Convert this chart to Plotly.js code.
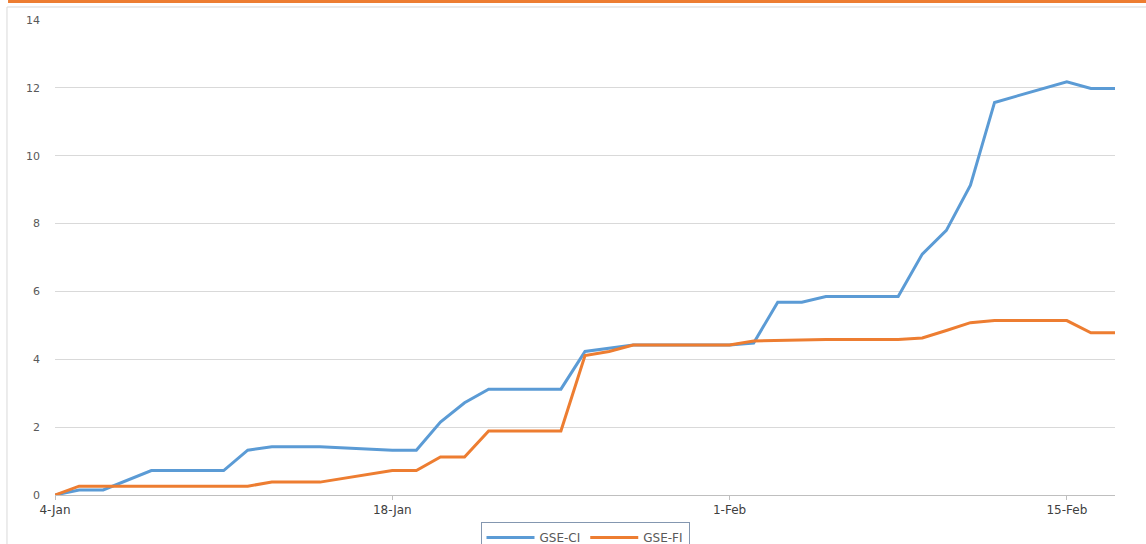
<!DOCTYPE html>
<html>
<head>
<meta charset="utf-8">
<script src="https://cdn.plot.ly/plotly-3.0.1.min.js"></script>
<style>html,body{margin:0;padding:0;background:#fff;}#chart{width:1146px;height:544px;}</style>
</head>
<body>
<div id="chart"></div>
<script>
const dates = ['2016-01-04','2016-01-05','2016-01-06','2016-01-07','2016-01-08',
  '2016-01-11','2016-01-12','2016-01-13','2016-01-14','2016-01-15',
  '2016-01-18','2016-01-19','2016-01-20','2016-01-21','2016-01-22',
  '2016-01-25','2016-01-26','2016-01-27','2016-01-28','2016-01-29',
  '2016-02-01','2016-02-02','2016-02-03','2016-02-04','2016-02-05',
  '2016-02-08','2016-02-09','2016-02-10','2016-02-11','2016-02-12',
  '2016-02-15','2016-02-16','2016-02-17'];
const gseCI = [0, 0.15, 0.15, 0.44, 0.72,
  0.72, 1.32, 1.42, 1.42, 1.42,
  1.32, 1.32, 2.15, 2.72, 3.12,
  3.12, 4.23, 4.32, 4.42, 4.42,
  4.42, 4.48, 5.68, 5.68, 5.85,
  5.85, 7.10, 7.80, 9.13, 11.57,
  12.18, 11.98, 11.98];
const gseFI = [0, 0.26, 0.26, 0.26, 0.26,
  0.26, 0.26, 0.38, 0.38, 0.38,
  0.72, 0.72, 1.12, 1.12, 1.89,
  1.89, 4.11, 4.23, 4.42, 4.42,
  4.42, 4.54, 4.55, 4.55, 4.58,
  4.58, 4.63, 4.85, 5.08, 5.14,
  5.14, 4.78, 4.78];
const seriesNames = ['GSE-CI', 'GSE-FI'];

const traces = [
  {x: dates, y: gseCI, name: seriesNames[0], type: 'scatter', mode: 'lines',
   line: {color: '#5B9BD5', width: 3}},
  {x: dates, y: gseFI, name: seriesNames[1], type: 'scatter', mode: 'lines',
   line: {color: '#ED7D31', width: 3}}
];

const layout = {
  width: 1146, height: 544,
  margin: {l: 55, r: 31, t: 20, b: 49, autoexpand: false},
  paper_bgcolor: '#ffffff', plot_bgcolor: '#ffffff',
  font: {family: 'DejaVu Sans, sans-serif', size: 11, color: '#595959'},
  showlegend: true,
  legend: {orientation: 'h', x: 0.5, xanchor: 'center', y: -0.057, yanchor: 'top',
    bordercolor: '#8497b0', borderwidth: 1, font: {size: 12, color: '#595959'},
    itemwidth: 48, tracegroupgap: 0},
  xaxis: {
    type: 'date', range: ['2016-01-04', '2016-02-17'],
    tick0: '2016-01-04', dtick: 14 * 86400000, tickformat: '%-d-%b',
    showgrid: false, showline: true, linecolor: '#bfbfbf', linewidth: 1,
    ticks: 'outside', ticklen: 4, tickcolor: '#bfbfbf',
    tickfont: {size: 12, color: '#404040'}, zeroline: false, fixedrange: true
  },
  yaxis: {
    range: [0, 14], dtick: 2, showgrid: true, gridcolor: '#d9d9d9', gridwidth: 1,
    zeroline: false, showline: false, ticks: '', ticklabelstandoff: 14,
    tickfont: {size: 11, color: '#595959'}, fixedrange: true
  },
  shapes: [
    {type: 'rect', xref: 'paper', yref: 'paper', x0: -0.0443, x1: 1.03, y0: 1.0358, y1: 1.05,
     fillcolor: '#ED7D31', line: {width: 0}, layer: 'above'},
    {type: 'line', xref: 'paper', yref: 'paper', x0: -0.0453, x1: -0.0453, y0: -0.12, y1: 1.0274,
     line: {color: '#d9d9d9', width: 1}},
    {type: 'line', xref: 'paper', yref: 'paper', x0: -0.0453, x1: 1.03, y0: 1.0274, y1: 1.0274,
     line: {color: '#d9d9d9', width: 1}}
  ]
};

Plotly.newPlot('chart', traces, layout, {displayModeBar: false, staticPlot: true});
</script>
</body>
</html>
